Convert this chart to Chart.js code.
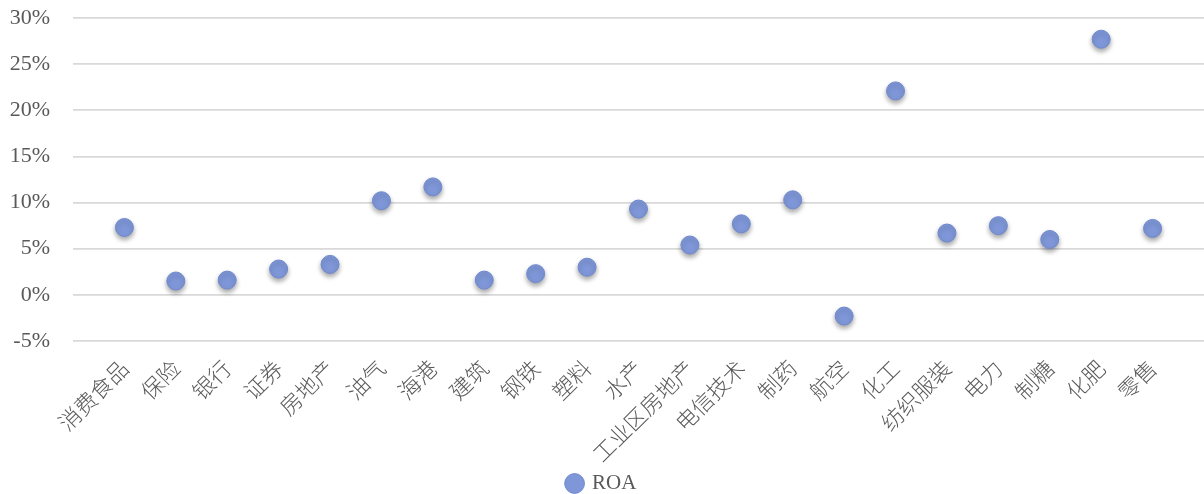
<!DOCTYPE html>
<html>
<head>
<meta charset="utf-8">
<script src="https://cdn.jsdelivr.net/npm/chart.js@4.4.1/dist/chart.umd.min.js"></script>
<style>
    html, body { margin: 0; padding: 0; background: #fff; }
    #wrap { width: 1204px; height: 494px; position: relative; }
</style>
</head>
<body>
<div id="wrap"><canvas id="chart-roa"></canvas></div>
<script>
// 行业
const industries = ['消费食品', '保险', '银行', '证券', '房地产', '油气', '海港', '建筑', '钢铁', '塑料', '水产',
    '工业区房地产', '电信技术', '制药', '航空', '化工', '纺织服装', '电力', '制糖', '化肥', '零售'];
// ROA (%)
const roa = [7.3, 1.5, 1.6, 2.8, 3.3, 10.2, 11.7, 1.6, 2.3, 3.0, 9.3, 5.4, 7.7, 10.3, -2.3, 22.1, 6.7, 7.5, 6.0, 27.7, 7.2];
const yTicks = [-5, 0, 5, 10, 15, 20, 25, 30];

// sombra de los puntos
const shadowPlugin = {
    id: 'pointShadow',
    beforeDatasetDraw(chart) {
        const ctx = chart.ctx;
        ctx.save();
        ctx.shadowColor = 'rgba(0,0,0,0.35)';
        ctx.shadowBlur = 5;
        ctx.shadowOffsetY = 3;
    },
    afterDatasetDraw(chart) {
        chart.ctx.restore();
    }
};

const ctx = document.getElementById('chart-roa').getContext('2d');
new Chart(ctx, {
    type: 'scatter',
    data: {
        datasets: [{
            label: 'ROA',
            data: roa.map((v, i) => ({ x: i, y: v })),
            backgroundColor: '#7f97d8',
            borderColor: '#7089cf',
            borderWidth: 1,
            pointRadius: 9,
            pointHoverRadius: 9
        }]
    },
    options: {
        responsive: true,
        maintainAspectRatio: false,
        animation: false,
        layout: { autoPadding: false, padding: { top: 18, right: 0, left: 0, bottom: -10 } },
        plugins: {
            tooltip: { enabled: false },
            legend: {
                position: 'bottom',
                labels: {
                    usePointStyle: true,
                    pointStyle: 'circle',
                    boxWidth: 14,
                    boxHeight: 14,
                    padding: 2,
                    color: '#595959',
                    font: { family: '"Liberation Serif", "Times New Roman", serif', size: 21 }
                }
            }
        },
        scales: {
            x: {
                type: 'linear',
                min: -1,
                max: 21,
                grid: { display: false },
                border: { display: false },
                afterBuildTicks: axis => {
                    axis.ticks = industries.map((_, i) => ({ value: i }));
                },
                afterFit: s => {
                    s.paddingLeft = 0;
                    s.paddingRight = 0;
                    s.height = 130;
                },
                ticks: {
                    autoSkip: false,
                    minRotation: 45,
                    maxRotation: 45,
                    padding: 6,
                    color: '#595959',
                    font: { family: '"Noto Sans CJK SC", sans-serif', size: 22, weight: 300 },
                    callback: (v) => industries[v]
                }
            },
            y: {
                min: -5,
                max: 30,
                afterBuildTicks: axis => {
                    axis.ticks = yTicks.map(v => ({ value: v }));
                },
                afterFit: s => {
                    s.width = 73;
                    s.paddingTop = 0;
                    s.paddingBottom = 0;
                },
                grid: { color: '#d9d9d9', lineWidth: 1.8, drawTicks: false },
                border: { display: false },
                ticks: {
                    padding: 23,
                    color: '#595959',
                    font: { family: '"Liberation Serif", "Times New Roman", serif', size: 22 },
                    callback: v => v + '%'
                }
            }
        }
    },
    plugins: [shadowPlugin]
});
</script>
</body>
</html>
